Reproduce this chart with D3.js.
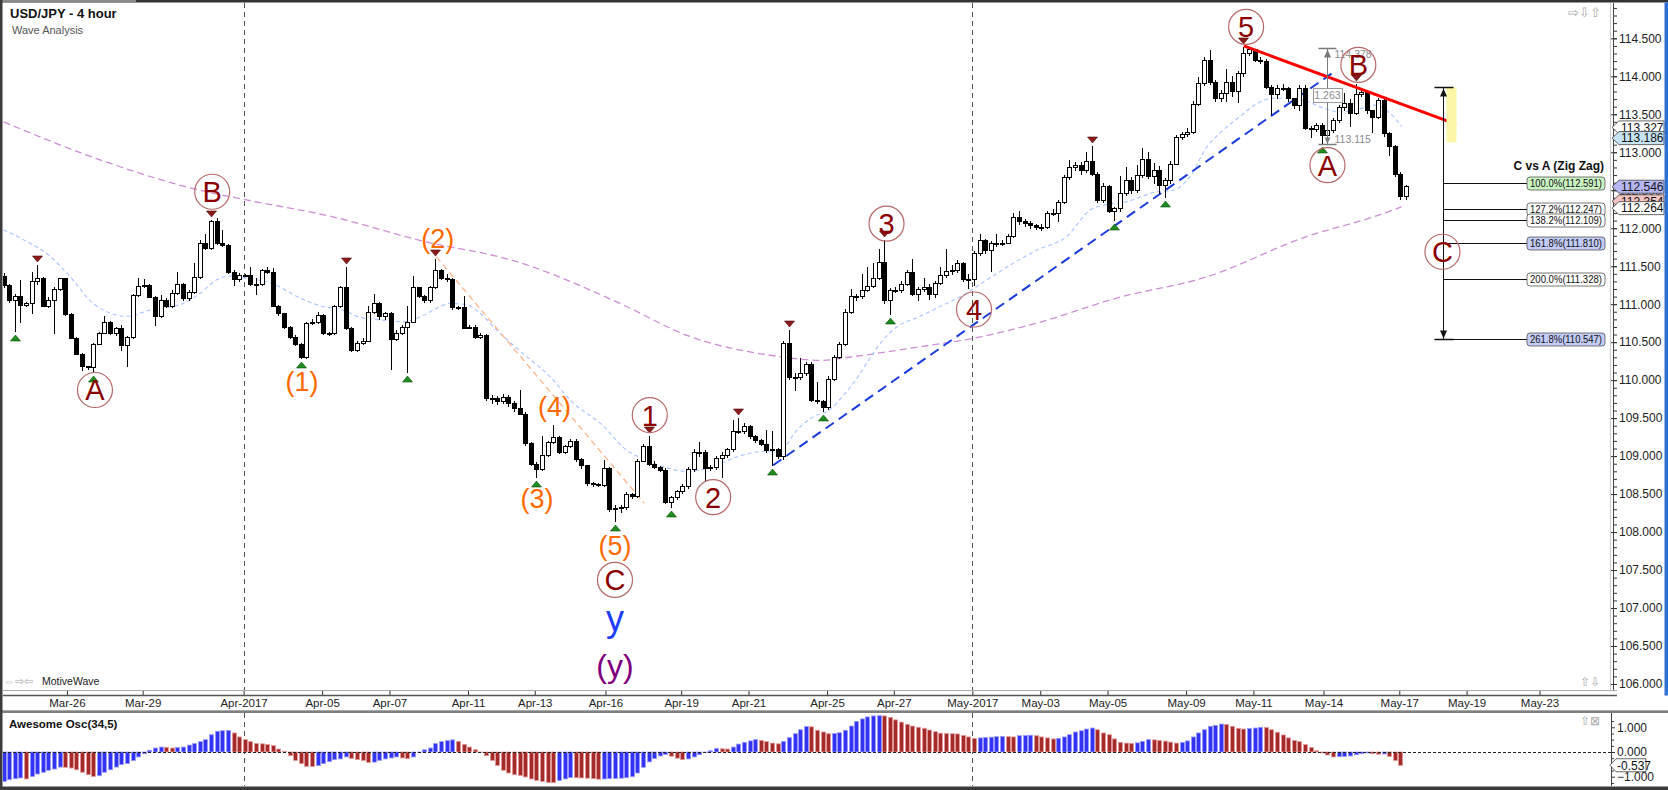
<!DOCTYPE html>
<html>
<head>
<meta charset="utf-8">
<script src="https://cdn.jsdelivr.net/npm/d3@7"></script>
<style>
html, body { margin: 0; padding: 0; background: #fff; }
svg { display: block; font-family: "Liberation Sans", Arial, sans-serif; }
</style>
</head>
<body>
<svg id="chart" width="1668" height="790"></svg>
<script>
// ---- data (4 hour bars, index 0 = first visible bar) ----
const firstOpen = 111.37;
const closes = [
111.25,111.06,111.11,110.99,111.01,111.30,111.35,110.98,111.06,111.20,
111.34,110.87,110.56,110.35,110.18,110.17,110.48,110.62,110.77,110.62,
110.68,110.46,110.57,111.12,111.24,111.25,111.10,110.84,111.06,110.97,
111.15,111.27,111.08,111.16,111.36,111.81,111.74,112.09,111.80,111.78,
111.43,111.33,111.38,111.38,111.27,111.27,111.45,111.43,110.98,110.88,
110.70,110.57,110.48,110.30,110.75,110.77,110.86,110.62,110.62,110.97,
111.22,110.68,110.40,110.49,110.52,110.90,111.02,110.84,110.89,110.54,
110.62,110.70,110.77,111.22,111.11,111.05,111.22,111.45,111.34,111.33,
110.96,110.96,110.69,110.70,110.57,110.59,109.77,109.76,109.73,109.78,
109.70,109.63,109.56,109.17,108.90,108.83,109.01,109.18,109.25,109.06,
109.13,109.20,108.96,108.88,108.64,108.63,108.62,108.84,108.31,108.32,
108.33,108.50,108.48,108.94,109.13,108.90,108.86,108.82,108.40,108.46,
108.54,108.61,108.83,109.05,109.06,108.84,108.85,108.97,109.01,109.09,
109.33,109.33,109.39,109.26,109.21,109.16,109.08,109.09,109.00,110.49,
110.04,110.04,110.09,110.21,109.74,109.72,109.64,110.02,110.31,110.48,
110.90,111.11,111.11,111.19,111.24,111.35,111.55,111.05,111.18,111.19,
111.27,111.43,111.14,111.20,111.23,111.14,111.28,111.38,111.44,111.45,
111.54,111.33,111.33,111.67,111.84,111.71,111.80,111.81,111.81,111.90,
112.15,112.10,112.07,112.04,112.02,112.02,112.20,112.20,112.35,112.68,
112.81,112.83,112.76,112.88,112.72,112.37,112.56,112.23,112.26,112.46,
112.64,112.50,112.70,112.91,112.69,112.77,112.57,112.63,112.85,113.20,
113.24,113.27,113.64,113.91,114.21,113.93,113.71,113.78,113.92,113.80,
114.04,114.30,114.36,114.22,114.20,113.86,113.77,113.85,113.85,113.71,
113.62,113.84,113.32,113.30,113.36,113.23,113.29,113.42,113.59,113.65,
113.52,113.77,113.79,113.55,113.47,113.69,113.25,113.08,112.71,112.42,
112.55];
const highs = [
111.41,111.27,111.13,111.32,111.03,111.43,111.52,111.36,111.10,111.23,
111.35,111.34,110.88,110.57,110.36,110.19,110.49,110.64,110.84,110.78,
110.70,110.73,110.58,111.14,111.34,111.33,111.26,111.11,111.12,111.08,
111.18,111.43,111.28,111.18,111.54,111.85,111.93,112.11,112.13,111.98,
111.79,111.45,111.41,111.40,111.49,111.34,111.46,111.49,111.47,110.99,
110.89,110.71,110.59,110.49,110.77,110.80,110.90,110.87,110.64,110.99,
111.24,111.49,110.70,110.51,110.55,110.97,111.14,111.03,110.90,110.90,
110.66,110.73,110.98,111.37,111.23,111.12,111.24,111.59,111.46,111.40,
111.34,110.98,111.11,110.73,110.73,110.62,110.61,109.80,109.79,109.82,
109.80,109.72,109.87,109.58,109.18,108.92,109.26,109.20,109.41,109.27,
109.15,109.22,109.22,108.97,108.88,108.66,108.65,108.95,108.85,108.35,
108.35,108.53,108.52,108.96,109.16,109.26,108.93,108.87,108.84,108.48,
108.56,108.63,108.85,109.09,109.19,109.08,108.88,109.00,109.05,109.11,
109.48,109.50,109.43,109.41,109.28,109.23,109.34,109.33,109.10,110.52,
110.66,110.10,110.29,110.24,110.24,109.97,109.74,110.05,110.33,110.50,
110.93,111.20,111.14,111.40,111.49,111.54,111.73,111.84,111.21,111.22,
111.30,111.45,111.59,111.23,111.34,111.26,111.31,111.49,111.72,111.52,
111.58,111.56,111.40,111.70,111.92,111.86,111.83,111.93,111.84,111.93,
112.20,112.22,112.12,112.09,112.06,112.06,112.22,112.25,112.37,112.70,
112.90,112.87,112.87,113.00,113.08,112.74,112.60,112.57,112.28,112.69,
112.80,112.67,112.83,113.06,113.00,112.86,112.82,112.66,112.88,113.23,
113.27,113.32,113.67,113.99,114.25,114.34,113.95,113.82,114.10,114.00,
114.07,114.38,114.37,114.36,114.25,114.23,113.88,113.88,113.90,113.86,
113.72,113.88,113.88,113.34,113.38,113.38,113.31,113.45,113.62,113.78,
113.70,113.90,113.85,113.80,113.56,113.72,113.73,113.26,113.10,112.74,
112.57];
const lows = [
111.22,111.03,110.65,110.77,110.97,110.88,111.27,110.97,110.96,110.62,
111.18,110.86,110.55,110.34,110.13,110.14,110.11,110.47,110.62,110.61,
110.59,110.40,110.18,110.56,111.11,111.22,111.09,110.73,110.83,110.96,
110.96,111.14,111.06,111.06,111.15,111.35,111.72,111.72,111.79,111.77,
111.41,111.25,111.31,111.37,111.25,111.14,111.25,111.41,110.97,110.86,
110.68,110.55,110.46,110.29,110.29,110.74,110.75,110.61,110.59,110.61,
110.96,110.67,110.38,110.39,110.48,110.51,110.89,110.81,110.81,110.14,
110.53,110.61,110.11,110.76,111.10,111.03,111.03,111.21,111.33,111.30,
110.94,110.93,110.68,110.68,110.55,110.55,109.74,109.70,109.68,109.70,
109.66,109.60,109.55,109.15,108.88,108.73,108.82,109.00,109.17,109.04,
109.04,109.12,108.94,108.84,108.62,108.60,108.60,108.60,108.28,108.14,
108.27,108.31,108.45,108.46,108.93,108.88,108.84,108.80,108.38,108.33,
108.44,108.52,108.58,108.81,109.00,108.69,108.82,108.83,108.73,108.99,
109.07,109.30,109.31,109.24,109.19,109.14,109.06,108.88,108.97,108.96,
110.02,109.87,110.02,110.07,109.72,109.70,109.60,109.62,110.00,110.29,
110.46,110.88,111.05,111.08,111.17,111.22,111.33,111.02,110.87,111.16,
111.16,111.25,111.12,111.05,111.17,111.07,111.10,111.27,111.36,111.40,
111.42,111.31,111.21,111.25,111.65,111.68,111.44,111.76,111.78,111.80,
111.88,112.05,112.03,112.00,111.99,111.98,112.00,112.17,112.10,112.33,
112.65,112.77,112.72,112.74,112.70,112.35,112.34,112.21,112.11,112.23,
112.44,112.47,112.48,112.68,112.66,112.60,112.47,112.41,112.60,112.84,
113.18,113.22,113.25,113.62,113.88,113.90,113.68,113.68,113.68,113.74,
113.66,114.00,114.28,114.20,114.17,113.84,113.50,113.72,113.82,113.68,
113.58,113.55,113.30,113.20,113.28,113.12,113.22,113.27,113.40,113.56,
113.34,113.50,113.74,113.52,113.27,113.45,113.22,112.96,112.69,112.38,
112.38];

// Awesome Oscillator (34,5)
const aoValues = [
-1.19,-1.12,-1.08,-1.05,-1.09,-0.99,-0.89,-0.82,-0.74,-0.69,
-0.61,-0.62,-0.65,-0.72,-0.82,-0.92,-0.99,-0.96,-0.82,-0.72,
-0.61,-0.51,-0.47,-0.35,-0.20,-0.07,0.07,0.16,0.20,0.19,
0.16,0.18,0.20,0.28,0.34,0.42,0.50,0.70,0.84,0.86,
0.87,0.77,0.61,0.50,0.42,0.34,0.33,0.30,0.26,0.12,
0.03,-0.15,-0.34,-0.47,-0.58,-0.59,-0.55,-0.47,-0.39,-0.31,
-0.28,-0.20,-0.26,-0.31,-0.34,-0.42,-0.41,-0.34,-0.28,-0.24,
-0.20,-0.24,-0.27,-0.20,-0.01,0.09,0.16,0.34,0.42,0.46,
0.49,0.43,0.31,0.20,0.09,-0.01,-0.15,-0.34,-0.55,-0.74,
-0.85,-0.92,-0.95,-1.01,-1.09,-1.15,-1.19,-1.23,-1.24,-1.15,
-1.09,-1.03,-1.04,-1.05,-1.06,-1.08,-1.10,-1.09,-1.08,-1.07,
-1.06,-1.04,-1.00,-0.85,-0.62,-0.40,-0.27,-0.16,-0.10,-0.17,
-0.25,-0.31,-0.28,-0.20,-0.11,-0.02,0.05,0.14,0.13,0.12,
0.20,0.32,0.39,0.45,0.50,0.47,0.42,0.36,0.33,0.43,
0.58,0.74,0.90,1.03,1.02,0.88,0.81,0.74,0.75,0.78,
0.88,1.05,1.24,1.34,1.42,1.46,1.47,1.46,1.40,1.30,
1.21,1.12,1.05,1.00,0.96,0.89,0.82,0.76,0.75,0.74,
0.73,0.67,0.61,0.55,0.57,0.59,0.60,0.62,0.63,0.62,
0.61,0.66,0.67,0.68,0.66,0.61,0.57,0.53,0.55,0.61,
0.70,0.81,0.86,0.93,0.97,0.90,0.77,0.70,0.53,0.39,
0.36,0.35,0.37,0.43,0.50,0.49,0.47,0.44,0.40,0.36,
0.39,0.45,0.61,0.77,0.90,1.04,1.08,1.13,1.11,1.04,
0.96,0.93,0.95,0.97,1.00,0.99,0.90,0.80,0.69,0.57,
0.47,0.42,0.30,0.18,0.05,-0.04,-0.12,-0.20,-0.19,-0.18,
-0.16,-0.11,-0.07,-0.04,-0.07,-0.09,-0.08,-0.18,-0.34,-0.54];
const aoLast = -0.537;

// moving averages, read as [bar, price]
const fastMA = [[0,111.98],[3,111.87],[8.3,111.63],[11.9,111.36],[16,111.01],[22,110.84],[26,110.92],
  [32,111.01],[35,111.14],[38,111.32],[40.4,111.37],[43.3,111.34],[48,111.27],[52.9,111.08],[56.4,110.98],
  [60.6,110.92],[63.5,110.83],[67.7,110.79],[71.3,110.77],[74.2,110.83],[76.6,110.92],[79.6,111.01],
  [82.6,110.99],[85,110.88],[87.9,110.66],[91.8,110.40],[98,110.00],[101,109.74],[107,109.39],[111,109.08],
  [114.6,108.95],[117.6,108.86],[121.8,108.80],[126.5,108.86],[130,108.97],[134.9,109.06],[138.4,109.07],
  [141.4,109.34],[144.4,109.52],[147.3,109.61],[149,109.74],[151.5,109.96],[155,110.35],[156.8,110.53],
  [159.2,110.70],[163.4,110.84],[167,110.97],[171.1,111.12],[175.3,111.32],[180,111.54],[184.2,111.71],
  [189.5,111.89],[193.7,112.24],[196.6,112.31],[200.2,112.35],[205.6,112.48],[208.5,112.50],[211.5,112.68],
  [214.5,113.07],[216.8,113.25],[220.4,113.47],[223.4,113.64],[226.4,113.71],[229.3,113.71],[232.3,113.67],
  [235.3,113.58],[238.2,113.53],[241.2,113.56],[244.2,113.62],[247.2,113.51],[249.2,113.34]];
const slowMA = [[0,113.40],[17.2,112.90],[35,112.50],[42.8,112.38],[58.7,112.15],[74.2,111.84],[91.5,111.56],
  [109.9,111.01],[121.8,110.59],[138.4,110.31],[145.5,110.26],[151.5,110.31],[163.4,110.44],[172.8,110.55],
  [184.2,110.75],[198.4,111.08],[214.5,111.36],[232.3,111.89],[244.2,112.15],[249.2,112.28]];

// time axis
const tickLabels = ['Mar-26','Mar-29','Apr-2017','Apr-05','Apr-07','Apr-11','Apr-13','Apr-16','Apr-19','Apr-21',
  'Apr-25','Apr-27','May-2017','May-03','May-05','May-09','May-11','May-14','May-17','May-19','May-23'];
const tickBars = [11.3,24.8,42.8,56.8,68.8,82.8,94.7,107.3,120.8,132.8,146.8,158.7,172.7,184.8,196.8,210.8,
  222.8,235.3,248.8,260.8,273.8];

// swing markers
const swingLows = [2,16,53,72,95,109,119,137,146,158,198,207,235];
const swingHighs = [6,37,61,77,115,131,140,157,194,221,241];

// wave labels [text, bar, price]
const circledLabels = [['A',16.3,109.87],['B',37.2,112.48],['C',109,107.37],['1',115.2,109.54],['2',126.5,108.46],
  ['3',157.4,112.06],['4',173,110.93],['5',221.5,114.65],['A',236,112.83],['B',241.5,114.15],['C',256.5,111.69]];
const minorLabels = [['(1)',53.2,109.98],['(2)',77.4,111.87],['(3)',95.1,108.44],['(4)',98.2,109.65],['(5)',109,107.83]];
const degreeLabels = [['y',109,106.84],['(y)',109,106.25]];

// drawn lines [[bar, price],[bar, price]]
const channelLine = [[137.2,108.88],[237.6,114.08]];
const resistLine = [[221.1,114.40],[258.9,113.37]];
const waveLine = [[77.2,111.62],[114.2,108.38]];

// measure A (5 high to A low)
const measureBar = 235.9, measureHigh = 114.378, measureLow = 113.115;

// C vs A projection from B
const fibBar = 256.6, fibTop = 113.854, fibZoneLow = 113.13;
const fibLevels = [100.0,127.2,138.2,161.8,200.0,261.8];
const fibPrices = [112.591,112.247,112.109,111.810,111.328,110.547];

// price markers on the axis
const markValues = [113.327,113.186,112.354,112.264,112.546];
const markFills = ['#ffffff','#c6e4f4','#f3c4c4','#ffffff','#b7b7f6'];

// ---- drawing ----
const svg = d3.select('#chart');
const FONT = '"Liberation Sans", Arial, sans-serif';

const x = d3.scaleLinear().domain([0, 250]).range([3.5, 1406]);
const y = d3.scaleLinear().domain([106.5, 114.5]).range([646, 38.3]);
const yo = d3.scaleLinear().domain([-1, 1]).range([776.7, 727.3]);
const px = i => Math.round(x(i));
const py = v => Math.round(y(v));

const defs = svg.append('defs');
defs.append('clipPath').attr('id', 'clipMain')
  .append('rect').attr('x', 3).attr('y', 3).attr('width', 1610).attr('height', 687);
defs.append('clipPath').attr('id', 'clipOsc')
  .append('rect').attr('x', 3).attr('y', 713).attr('width', 1608).attr('height', 73);

svg.append('rect').attr('width', 1668).attr('height', 790).attr('fill', '#fff');

const main = svg.append('g').attr('clip-path', 'url(#clipMain)');

// month separators
const monthBars = tickBars.filter((b, k) => /20\d\d$/.test(tickLabels[k]));
main.selectAll('.mline').data(monthBars).enter().append('line')
  .attr('x1', d => px(d) + .5).attr('x2', d => px(d) + .5)
  .attr('y1', 3).attr('y2', 690)
  .attr('stroke', '#555').attr('stroke-dasharray', '5,4');

// moving averages
const maLine = d3.line().x(d => x(d[0])).y(d => y(d[1])).curve(d3.curveMonotoneX);
main.append('path').datum(slowMA).attr('d', maLine)
  .attr('fill', 'none').attr('stroke', '#cf8fd6').attr('stroke-width', 1.3).attr('stroke-dasharray', '7,4');
main.append('path').datum(fastMA).attr('d', maLine)
  .attr('fill', 'none').attr('stroke', '#a9c3ff').attr('stroke-width', 1.1).attr('stroke-dasharray', '4,3');

const straight = d3.line().x(d => x(d[0])).y(d => y(d[1]));
main.append('path').datum(waveLine).attr('d', straight)
  .attr('fill', 'none').attr('stroke', '#ffb080').attr('stroke-width', 1.2).attr('stroke-dasharray', '6,4');
main.append('path').datum(channelLine).attr('d', straight)
  .attr('fill', 'none').attr('stroke', '#1a3cdc').attr('stroke-width', 2).attr('stroke-dasharray', '10,6');

// candles
const candles = closes.map((c, i) => ({ i, o: i ? closes[i - 1] : firstOpen, h: highs[i], l: lows[i], c }));
const cg = main.append('g');
const cs = cg.selectAll('g').data(candles).enter().append('g');
cs.append('line')
  .attr('x1', d => px(d.i) + .5).attr('x2', d => px(d.i) + .5)
  .attr('y1', d => py(Math.max(d.h, d.o, d.c))).attr('y2', d => py(Math.min(d.l, d.o, d.c)) + 1)
  .attr('stroke', '#000').attr('stroke-width', 1);
cs.append('rect')
  .attr('x', d => px(d.i) - 1.5).attr('width', 4)
  .attr('y', d => py(Math.max(d.o, d.c)) + .5)
  .attr('height', d => Math.max(1, py(Math.min(d.o, d.c)) - py(Math.max(d.o, d.c))))
  .attr('fill', d => d.c < d.o ? '#000' : '#fff')
  .attr('stroke', '#000').attr('stroke-width', 1);

// swing markers
main.selectAll('.lowmark').data(swingLows).enter().append('path')
  .attr('d', i => { const cx = px(i) + .5, cy = py(lows[i]) + 4; return `M${cx},${cy} L${cx + 5},${cy + 6} L${cx - 5},${cy + 6} Z`; })
  .attr('fill', '#1e8c1e').attr('stroke', '#0d520d').attr('stroke-width', .6);
main.selectAll('.highmark').data(swingHighs).enter().append('path')
  .attr('d', i => { const cx = px(i) + .5, cy = py(highs[i]) - 3; return `M${cx},${cy} L${cx + 5},${cy - 6} L${cx - 5},${cy - 6} Z`; })
  .attr('fill', '#8b1a1a').attr('stroke', '#4d0c0c').attr('stroke-width', .6);

// resistance line
main.append('path').datum(resistLine).attr('d', straight)
  .attr('fill', 'none').attr('stroke', '#ff0000').attr('stroke-width', 3);

// measure tool
{
  const mx = px(measureBar) + .5, yt = py(measureHigh) + .5, yb = py(measureLow) + .5;
  const g = main.append('g').attr('stroke', '#7a7a7a').attr('fill', '#7a7a7a');
  g.append('line').attr('x1', mx).attr('x2', mx).attr('y1', yt).attr('y2', yb);
  g.append('line').attr('x1', mx - 9).attr('x2', mx + 9).attr('y1', yt).attr('y2', yt).attr('stroke-width', 1.5);
  g.append('line').attr('x1', mx - 9).attr('x2', mx + 9).attr('y1', yb).attr('y2', yb).attr('stroke-width', 1.5);
  g.append('path').attr('d', `M${mx},${yt + 1} L${mx + 3.5},${yt + 9} L${mx - 3.5},${yt + 9} Z`).attr('stroke', 'none');
  g.append('path').attr('d', `M${mx},${yb - 1} L${mx + 3},${yb - 7} L${mx - 3},${yb - 7} Z`).attr('stroke', 'none');
  const ym = y((measureHigh + measureLow) / 2);
  g.append('rect').attr('x', mx - 14).attr('y', ym - 7).attr('width', 29).attr('height', 14)
    .attr('fill', '#fff').attr('stroke', '#999');
  const t = main.append('g').attr('fill', '#8a8a8a').attr('font-size', 10.5);
  t.append('text').attr('x', mx).attr('y', ym).attr('dy', '0.36em').attr('text-anchor', 'middle')
    .text((measureHigh - measureLow).toFixed(3));
  t.append('text').attr('x', mx + 7).attr('y', yt + 9).text(measureHigh.toFixed(3));
  t.append('text').attr('x', mx + 7).attr('y', yb - 2).text(measureLow.toFixed(3));
}

// projection tool
{
  const fx = px(fibBar) + .5, yt = py(fibTop) + .5, yb = py(fibPrices[fibPrices.length - 1]) + .5;
  main.append('rect').attr('x', fx + 3).attr('y', yt).attr('width', 10).attr('height', y(fibZoneLow) - yt)
    .attr('fill', '#fbf7a6');
  const g = main.append('g').attr('stroke', '#111').attr('fill', '#111');
  g.append('line').attr('x1', fx).attr('x2', fx).attr('y1', yt).attr('y2', yb);
  g.append('line').attr('x1', fx - 9).attr('x2', fx + 10).attr('y1', yt).attr('y2', yt).attr('stroke-width', 1.5);
  g.append('line').attr('x1', fx - 9).attr('x2', fx + 10).attr('y1', yb).attr('y2', yb).attr('stroke-width', 1.5);
  g.append('path').attr('d', `M${fx},${yt + 1} L${fx + 3.5},${yt + 9} L${fx - 3.5},${yt + 9} Z`).attr('stroke', 'none');
  g.append('path').attr('d', `M${fx},${yb - 1} L${fx + 3.5},${yb - 9} L${fx - 3.5},${yb - 9} Z`).attr('stroke', 'none');
  const fills = ['#c9f4c1', '#ffffff', '#ffffff', '#c3cbf7', '#ffffff', '#c3cbf7'];
  fibPrices.forEach((p, k) => {
    const ly = py(p) + .5;
    g.append('line').attr('x1', fx).attr('x2', 1527).attr('y1', ly).attr('y2', ly).attr('stroke-width', 1);
    main.append('rect').attr('x', 1527).attr('y', ly - 6.5).attr('width', 78).attr('height', 13).attr('rx', 3)
      .attr('fill', fills[k]).attr('stroke', '#555').attr('stroke-width', .8);
    main.append('text').attr('x', 1530).attr('y', ly).attr('dy', '0.36em')
      .attr('font-size', 10.5).attr('fill', '#111')
      .attr('textLength', 72).attr('lengthAdjust', 'spacingAndGlyphs')
      .text(`${fibLevels[k].toFixed(1)}%(${p.toFixed(3)})`);
  });
  main.append('text').attr('x', 1604).attr('y', py(fibPrices[0]) - 13)
    .attr('text-anchor', 'end').attr('font-size', 12).attr('font-weight', 'bold').attr('fill', '#111')
    .text('C vs A (Zig Zag)');
}

// wave labels
const lab = main.append('g').attr('font-family', FONT);
circledLabels.forEach(([t, b, p]) => {
  lab.append('circle').attr('cx', x(b)).attr('cy', y(p)).attr('r', 17.5)
    .attr('fill', 'none').attr('stroke', '#b86a6a').attr('stroke-width', 1.2);
  lab.append('text').attr('x', x(b)).attr('y', y(p)).attr('dy', '0.36em')
    .attr('text-anchor', 'middle').attr('font-size', 29).attr('fill', '#8b0000').text(t);
});
minorLabels.forEach(([t, b, p]) => {
  lab.append('text').attr('x', x(b)).attr('y', y(p)).attr('dy', '0.36em')
    .attr('text-anchor', 'middle').attr('font-size', 27).attr('fill', '#ff6a00').text(t);
});
lab.append('text').attr('x', x(degreeLabels[0][1])).attr('y', y(degreeLabels[0][2])).attr('dy', '0.3em')
  .attr('text-anchor', 'middle').attr('font-size', 36).attr('fill', '#1f3dff').text(degreeLabels[0][0]);
lab.append('text').attr('x', x(degreeLabels[1][1])).attr('y', y(degreeLabels[1][2])).attr('dy', '0.36em')
  .attr('text-anchor', 'middle').attr('font-size', 32).attr('fill', '#800080').text(degreeLabels[1][0]);

// title
svg.append('text').attr('x', 10).attr('y', 18).attr('font-size', 13).attr('font-weight', 'bold')
  .attr('fill', '#111').text('USD/JPY - 4 hour');
svg.append('text').attr('x', 12).attr('y', 34).attr('font-size', 11).attr('fill', '#555').text('Wave Analysis');
svg.append('text').attr('x', 1568).attr('y', 17).attr('font-size', 13).attr('fill', '#aaa').text('⇨⇩⇧');
svg.append('text').attr('x', 4).attr('y', 685).attr('font-size', 11).attr('fill', '#aaa').text('⇔⇨⇦');
svg.append('text').attr('x', 42).attr('y', 685).attr('font-size', 10.5).attr('fill', '#222').text('MotiveWave');
svg.append('text').attr('x', 1580).attr('y', 686).attr('font-size', 12).attr('fill', '#aaa').text('⇧⇩');

// price axis
const majorTicks = d3.range(106, 114.51, 0.5);
const minorTicks = d3.range(1059, 1150).map(v => v / 10).filter(v => y(v) > 4 && y(v) < 689);
const gyMinor = svg.append('g').attr('transform', 'translate(1613,0)')
  .call(d3.axisRight(y).tickValues(minorTicks).tickSize(4).tickFormat(''));
gyMinor.select('.domain').remove();
gyMinor.selectAll('line').attr('stroke', '#333');
const gy = svg.append('g').attr('transform', 'translate(1613,0)')
  .call(d3.axisRight(y).tickValues(majorTicks).tickSize(4).tickPadding(2).tickFormat(d3.format('.3f')));
gy.select('.domain').remove();
gy.attr('font-family', FONT).attr('font-size', 12);
gy.selectAll('.tick line').attr('x1', -3).attr('stroke', '#333');
gy.selectAll('.tick text').attr('fill', '#222');
svg.append('line').attr('x1', 1613.5).attr('x2', 1613.5).attr('y1', 3).attr('y2', 691).attr('stroke', '#444');
svg.append('line').attr('x1', 1610.5).attr('x2', 1610.5).attr('y1', 3).attr('y2', 691).attr('stroke', '#ccc');

function pointer(yy, txt, fill) {
  svg.append('path')
    .attr('d', `M1612,${yy} L1619,${yy - 6.5} L1664,${yy - 6.5} L1664,${yy + 6.5} L1619,${yy + 6.5} Z`)
    .attr('fill', fill).attr('stroke', '#444').attr('stroke-width', .8);
  svg.append('text').attr('x', 1621).attr('y', yy).attr('dy', '0.36em')
    .attr('font-size', 12).attr('fill', '#111').text(txt);
}
markValues.forEach((v, k) => pointer(y(v), v.toFixed(3), markFills[k]));

// time axis
const gx = svg.append('g').attr('transform', 'translate(0,690)')
  .call(d3.axisBottom(x).tickValues(tickBars).tickFormat((d, k) => tickLabels[k])
    .tickSizeInner(5).tickSizeOuter(0).tickPadding(4));
gx.select('.domain').remove();
gx.attr('font-family', FONT).attr('font-size', 11.5);
gx.selectAll('line').attr('stroke', '#333');
gx.selectAll('text').attr('fill', '#222');
svg.append('line').attr('x1', 3).attr('x2', 1617).attr('y1', 690.5).attr('y2', 690.5).attr('stroke', '#aaa');
svg.append('line').attr('x1', 3).attr('x2', 1617).attr('y1', 695.5).attr('y2', 695.5).attr('stroke', '#555').attr('stroke-width', 1.5);
svg.append('line').attr('x1', 0).attr('x2', 1668).attr('y1', 710.5).attr('y2', 710.5).attr('stroke', '#aaa');
svg.append('line').attr('x1', 0).attr('x2', 1668).attr('y1', 712).attr('y2', 712).attr('stroke', '#555').attr('stroke-width', 1.5);

// oscillator panel
const og = svg.append('g').attr('clip-path', 'url(#clipOsc)');
og.selectAll('.mline').data(monthBars).enter().append('line')
  .attr('x1', d => px(d) + .5).attr('x2', d => px(d) + .5)
  .attr('y1', 713).attr('y2', 786)
  .attr('stroke', '#555').attr('stroke-dasharray', '5,4');
og.selectAll('.ao').data(aoValues).enter().append('rect')
  .attr('x', (v, i) => px(i) - 1.5).attr('width', 4)
  .attr('y', v => Math.min(yo(0), yo(v)))
  .attr('height', v => Math.abs(yo(v) - yo(0)))
  .attr('fill', (v, i) => (i === 0 || v > aoValues[i - 1]) ? '#3333f5' : '#a52a2a')
  .attr('stroke', (v, i) => (i === 0 || v > aoValues[i - 1]) ? '#9a9aff' : '#e59a9a')
  .attr('stroke-width', .8);
og.append('line').attr('x1', 3).attr('x2', 1611).attr('y1', Math.round(yo(0)) + .5).attr('y2', Math.round(yo(0)) + .5)
  .attr('stroke', '#222').attr('stroke-dasharray', '3,2');

const go = svg.append('g').attr('transform', 'translate(1611,0)')
  .call(d3.axisRight(yo).tickValues([-1, 0, 1]).tickSize(4).tickPadding(2).tickFormat(d3.format('.3f')));
go.select('.domain').remove();
go.attr('font-family', FONT).attr('font-size', 12);
go.selectAll('line').attr('stroke', '#333');
go.selectAll('text').attr('fill', '#222');
const goMinor = svg.append('g').attr('transform', 'translate(1611,0)')
  .call(d3.axisRight(yo).tickValues([-1.25, -0.75, -0.5, -0.25, 0.25, 0.5, 0.75, 1.25]).tickSize(3).tickFormat(''));
goMinor.select('.domain').remove();
goMinor.selectAll('line').attr('stroke', '#333');
svg.append('line').attr('x1', 1611.5).attr('x2', 1611.5).attr('y1', 713).attr('y2', 786).attr('stroke', '#444');
{
  const yy = yo(aoLast);
  svg.append('path')
    .attr('d', `M1610,${yy} L1616,${yy - 6.5} L1646,${yy - 6.5} L1646,${yy + 6.5} L1616,${yy + 6.5} Z`)
    .attr('fill', '#fff').attr('stroke', '#444').attr('stroke-width', .8);
  svg.append('text').attr('x', 1617).attr('y', yy).attr('dy', '0.36em')
    .attr('font-size', 12).attr('fill', '#111').text(aoLast.toFixed(3));
}
svg.append('text').attr('x', 9).attr('y', 728).attr('font-size', 11.5).attr('font-weight', 'bold')
  .attr('fill', '#111').text('Awesome Osc(34,5)');
svg.append('text').attr('x', 1580).attr('y', 725).attr('font-size', 12).attr('fill', '#aaa').text('⇧⊠');

// frame
svg.append('rect').attr('x', 0).attr('y', 0).attr('width', 1668).attr('height', 2.5).attr('fill', '#333');
svg.append('rect').attr('x', 0).attr('y', 0).attr('width', 136).attr('height', 2.5).attr('fill', '#8a8a8a');
svg.append('rect').attr('x', 0).attr('y', 0).attr('width', 2.5).attr('height', 790).attr('fill', '#3a3a3a');
svg.append('rect').attr('x', 0).attr('y', 786.5).attr('width', 1668).attr('height', 3.5).attr('fill', '#3a3a3a');
svg.append('rect').attr('x', 1664.5).attr('y', 2.5).attr('width', 3.5).attr('height', 693).attr('fill', '#2f6fd6');
</script>
</body>
</html>
